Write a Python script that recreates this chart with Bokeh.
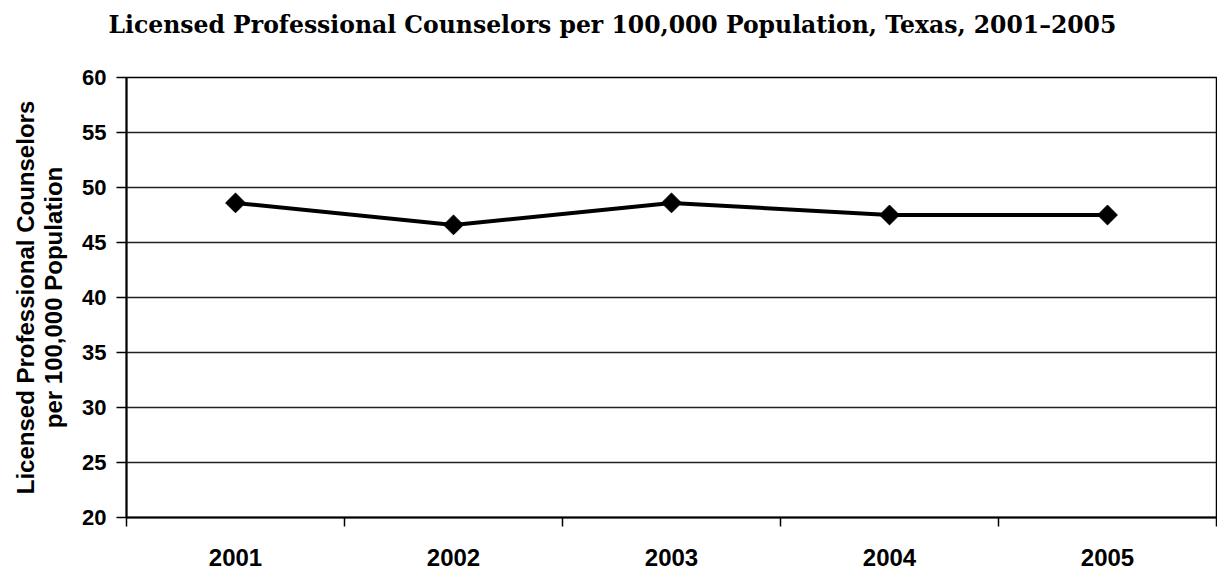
import numpy as np
from bokeh.plotting import figure
from bokeh.models import FixedTicker, Range1d, Title
from bokeh.embed import file_html
from bokeh.resources import INLINE

years = ["2001", "2002", "2003", "2004", "2005"]
values = [48.6, 46.6, 48.6, 47.5, 47.5]
y_ticks = [20, 25, 30, 35, 40, 45, 50, 55, 60]

title = "Licensed Professional Counselors per 100,000 Population, Texas, 2001\u20132005"
y_label = "Licensed Professional Counselors\nper 100,000 Population"

xs = [i + 0.5 for i in range(len(years))]

p = figure(width=1217, height=569, output_backend="svg", toolbar_location=None,
           x_range=Range1d(0, len(years)), y_range=Range1d(20, 60),
           min_border_left=126, min_border_right=1, min_border_top=77, min_border_bottom=52)

# spacer panel between frame and title (closest to frame)
p.add_layout(Title(text=" ", text_font_size="10px", standoff=19, text_color="white"), "above")
p.add_layout(Title(text=title, align="left", offset=-18,
                   text_font="DejaVu Serif", text_font_style="bold",
                   text_font_size="23.5px", text_color="black", standoff=13), "above")

p.line(xs, values, line_color="black", line_width=4)
p.scatter(xs, values, marker="square", angle=np.pi / 4, size=14,
          fill_color="black", line_color="black")

p.xaxis.ticker = FixedTicker(ticks=xs, minor_ticks=list(range(len(years) + 1)))
p.xaxis.major_label_overrides = {x: y for x, y in zip(xs, years)}
p.xaxis.major_tick_line_color = None
p.xaxis.minor_tick_line_color = "black"
p.xaxis.minor_tick_out = 9
p.xaxis.minor_tick_in = 0
p.xaxis.minor_tick_line_width = 1.5
p.xaxis.major_label_standoff = 22
p.xaxis.major_label_text_font = "Liberation Sans"
p.xaxis.major_label_text_font_style = "bold"
p.xaxis.major_label_text_font_size = "24px"
p.xaxis.major_label_text_color = "black"
p.xaxis.axis_line_width = 2
p.xaxis.axis_line_color = "black"

p.yaxis.ticker = FixedTicker(ticks=y_ticks)
p.yaxis.major_tick_out = 10
p.yaxis.major_tick_in = 0
p.yaxis.major_tick_line_width = 1.5
p.yaxis.major_tick_line_color = "black"
p.yaxis.minor_tick_line_color = None
p.yaxis.major_label_standoff = 10
p.yaxis.major_label_text_font = "Liberation Sans"
p.yaxis.major_label_text_font_style = "bold"
p.yaxis.major_label_text_font_size = "22px"
p.yaxis.major_label_text_color = "black"
p.yaxis.axis_line_width = 2
p.yaxis.axis_line_color = "black"
p.yaxis.axis_label = y_label
p.yaxis.axis_label_text_font = "Liberation Sans"
p.yaxis.axis_label_text_font_style = "bold"
p.yaxis.axis_label_text_font_size = "24px"
p.yaxis.axis_label_text_line_height = 1.05
p.yaxis.axis_label_text_color = "black"
p.yaxis.axis_label_standoff = 12

p.xgrid.grid_line_color = None
p.ygrid.ticker = FixedTicker(ticks=y_ticks)
p.ygrid.grid_line_color = "#222222"
p.ygrid.grid_line_width = 1.5

p.outline_line_color = "black"
p.outline_line_width = 1.5
p.background_fill_color = "white"
p.border_fill_color = "white"

open("out.html", "w").write(file_html(p, INLINE))
